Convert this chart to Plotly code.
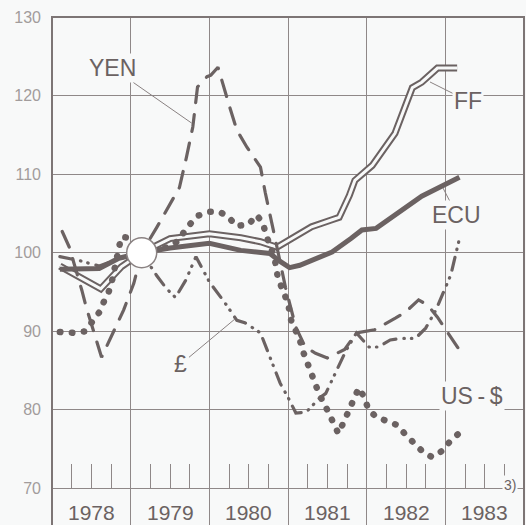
import plotly.graph_objects as go

# ---------------- data (index values) ----------------
year_labels = ["1978", "1979", "1980", "1981", "1982", "1983"]
y_ticks = [70, 80, 90, 100, 110, 120, 130]

ecu_x = [1978.10, 1978.35, 1978.60, 1978.85, 1979.14, 1979.50, 1980.00, 1980.40, 1980.77, 1980.90,
         1981.02, 1981.15, 1981.56, 1981.80, 1981.94, 1982.12, 1982.28, 1982.42, 1982.70, 1983.18]
ecu_y = [97.9, 97.9, 98.0, 99.3, 100.0, 100.6, 101.2, 100.3, 99.9, 98.9,
         98.1, 98.4, 100.1, 101.8, 102.9, 103.1, 104.2, 105.3, 107.2, 109.6]

ff_x = [1978.10, 1978.30, 1978.62, 1978.88, 1979.14, 1979.50, 1980.00, 1980.40, 1980.65, 1980.86,
        1981.06, 1981.30, 1981.56, 1981.65, 1981.78, 1981.85, 1982.07, 1982.36, 1982.58, 1982.70,
        1982.90, 1983.15]
ff_y = [98.3, 97.2, 95.4, 98.2, 100.0, 101.8, 102.4, 101.9, 101.4, 100.7,
        101.9, 103.3, 104.2, 104.5, 107.3, 109.2, 111.1, 115.2, 121.0, 121.7,
        123.5, 123.5]

yen_x = [1978.13, 1978.22, 1978.38, 1978.44, 1978.63, 1978.79, 1978.91, 1979.04, 1979.14, 1979.33,
         1979.62, 1979.71, 1979.79, 1979.85, 1979.97, 1980.02, 1980.11, 1980.26, 1980.35, 1980.48,
         1980.65, 1980.71, 1980.77, 1980.86, 1980.97, 1981.10, 1981.22, 1981.35, 1981.50, 1981.72,
         1981.87, 1982.10, 1982.37, 1982.50, 1982.66, 1982.78, 1982.90, 1983.05, 1983.18]
yen_y = [102.7, 100.7, 95.2, 92.9, 86.7, 90.1, 92.7, 96.1, 100.0, 103.2,
         108.3, 112.2, 116.0, 121.1, 122.4, 122.6, 123.6, 118.5, 115.6, 113.4,
         110.9, 107.7, 105.0, 100.7, 95.5, 90.5, 88.0, 87.2, 86.6, 87.7,
         89.8, 90.2, 91.7, 92.5, 94.0, 93.3, 91.8, 89.5, 87.6]

gbp_x = [1978.10, 1978.35, 1978.60, 1978.85, 1979.14, 1979.33, 1979.45, 1979.57, 1979.70, 1979.83,
         1980.00, 1980.20, 1980.35, 1980.45, 1980.65, 1980.75, 1980.90, 1981.00, 1981.10, 1981.23,
         1981.40, 1981.48, 1981.62, 1981.74, 1981.87, 1982.03, 1982.15, 1982.30, 1982.45, 1982.62,
         1982.75, 1982.88, 1983.07, 1983.17]
gbp_y = [99.5, 99.0, 98.3, 99.2, 100.0, 97.1, 95.5, 94.3, 96.5, 99.5,
         96.3, 93.6, 91.4, 91.1, 89.8, 87.2, 83.4, 81.6, 79.6, 79.7,
         81.5, 82.1, 85.1, 87.6, 89.8, 88.0, 88.0, 88.9, 89.1, 89.1,
         90.4, 92.7, 97.2, 101.4]

usd_x = [1978.10, 1978.30, 1978.42, 1978.52, 1978.60, 1978.67, 1978.72, 1978.76, 1978.82, 1978.88,
         1979.00, 1979.14, 1979.40, 1979.54, 1979.63, 1979.69, 1979.77, 1979.85, 1980.00, 1980.13,
         1980.24, 1980.34, 1980.50, 1980.60, 1980.68, 1980.72, 1980.83, 1980.87, 1980.93, 1981.00,
         1981.04, 1981.10, 1981.15, 1981.20, 1981.27, 1981.33, 1981.40, 1981.47, 1981.55, 1981.64,
         1981.72, 1981.78, 1981.83, 1981.90, 1981.97, 1982.02, 1982.12, 1982.25, 1982.38, 1982.50,
         1982.60, 1982.72, 1982.83, 1982.98, 1983.05, 1983.16]
usd_y = [89.9, 89.8, 90.0, 91.4, 92.4, 94.0, 95.0, 96.3, 99.0, 102.0,
         101.9, 100.0, 100.5, 101.0, 101.8, 102.9, 103.8, 104.7, 105.2, 105.2,
         104.6, 103.4, 103.6, 104.8, 103.8, 102.3, 99.3, 96.9, 95.3, 93.6,
         91.4, 90.2, 88.9, 87.2, 85.3, 83.8, 81.9, 80.6, 79.1, 77.0,
         78.7, 80.2, 81.6, 82.8, 81.6, 80.1, 79.1, 78.5, 78.1, 76.8,
         75.7, 74.6, 74.0, 74.9, 75.9, 76.9]

ems_start_x = [1979.14]
ems_start_y = [100.0]

# ---------------- styling ----------------
BG = "#f8f9f9"
INK = "#6b6262"
GRID = "#8f8888"
LBL = "#6b6262"
FONT = "Liberation Sans, Arial, sans-serif"

fig = go.Figure()

# FF: double (hollow) line
fig.add_trace(go.Scatter(x=ff_x, y=ff_y, mode="lines", line=dict(color=INK, width=7),
                         hoverinfo="skip", showlegend=False))
fig.add_trace(go.Scatter(x=ff_x, y=ff_y, mode="lines", line=dict(color=BG, width=3),
                         hoverinfo="skip", showlegend=False))
# ECU: thick solid
fig.add_trace(go.Scatter(x=ecu_x, y=ecu_y, mode="lines", line=dict(color=INK, width=5),
                         hoverinfo="skip", showlegend=False, uid="ecu"))
# YEN: long dashes
fig.add_trace(go.Scatter(x=yen_x, y=yen_y, mode="lines",
                         line=dict(color=INK, width=3.2, dash="17px,12px"),
                         hoverinfo="skip", showlegend=False, uid="yen"))
# GBP: dash-dot-dot
fig.add_trace(go.Scatter(x=gbp_x, y=gbp_y, mode="lines",
                         line=dict(color=INK, width=3.2, dash="13px,8px,0.5px,7px,0.5px,8px"),
                         hoverinfo="skip", showlegend=False, uid="gbp"))
# US-$: big dots
fig.add_trace(go.Scatter(x=usd_x, y=usd_y, mode="lines",
                         line=dict(color=INK, width=6.5, dash="0.5px,11.5px"),
                         hoverinfo="skip", showlegend=False, uid="usd"))
# EMS start circle
fig.add_trace(go.Scatter(x=ems_start_x, y=ems_start_y, mode="markers",
                         marker=dict(size=30, color="#ffffff", line=dict(color="#8a8282", width=1.5)),
                         hoverinfo="skip", showlegend=False))

annotations = []
for i, lab in enumerate(year_labels):
    annotations.append(dict(x=1978.5 + i, y=67.0, xref="x", yref="y", text=lab, showarrow=False,
                            font=dict(family=FONT, size=21, color=LBL)))
annotations.append(dict(x=1983.72, y=70.4, xref="x", yref="y", text="3)", showarrow=False,
                        xanchor="left", font=dict(family=FONT, size=14, color=LBL), bgcolor=BG))

lab_font = dict(family=FONT, size=23, color=LBL)
arrow = dict(showarrow=True, arrowhead=0, arrowwidth=1, arrowcolor="#8a8282", standoff=0,
             startstandoff=0, xref="x", yref="y", bgcolor=BG, font=lab_font)
annotations.append(dict(x=1979.775, y=116.5, ax=-79, ay=-55, text="YEN", **arrow))
annotations.append(dict(x=1982.805, y=121.73, ax=38, ay=19, text="FF", **arrow))
annotations.append(dict(x=1982.97, y=108.24, ax=14, ay=27, text="ECU", **arrow))
annotations.append(dict(x=1980.326, y=91.57, ax=-54, ay=45, text="£", **arrow))
annotations.append(dict(x=1983.339, y=81.77, xref="x", yref="y", text="US\u2009-\u2009$",
                        showarrow=False, bgcolor=BG, font=lab_font))

fig.update_layout(
    width=526, height=525,
    margin=dict(l=52, r=2, t=17, b=0),
    paper_bgcolor=BG, plot_bgcolor=BG,
    annotations=annotations,
    shapes=[dict(type="path", xref="paper", yref="paper", path="M0,0 L0,1 L1,1 L1,0",
                 line=dict(color="#7d7575", width=2), layer="above")],
    xaxis=dict(range=[1978, 1984], tick0=1978, dtick=1, showgrid=True, gridcolor=GRID, gridwidth=1.3,
               showticklabels=False, zeroline=False, showline=False,
               anchor="free", position=(525 - 488.5) / 508,
               ticks="inside", ticklen=25, tickcolor=GRID, tickwidth=1,
               minor=dict(tick0=1978, dtick=0.25, ticks="inside", ticklen=25, tickcolor=GRID,
                          tickwidth=1, showgrid=False)),
    yaxis=dict(range=[65.35, 130], tickvals=y_ticks, ticktext=[str(v) for v in y_ticks],
               showgrid=True, gridcolor=GRID, gridwidth=1.3, zeroline=False, showline=False,
               ticks="", ticklabelstandoff=10,
               tickfont=dict(family=FONT, size=16, color="#a29c9c")),
)

post = ("document.body.style.margin='0';"
        "document.body.style.background='" + BG + "';"
        "document.body.style.overflow='hidden';"
        "var s=document.createElement('style');"
        "s.textContent='.traceusd path.js-line, .tracegbp path.js-line, .traceyen path.js-line,"
        " path.js-line[style*=\"dasharray: 0.5px\"]{stroke-linecap:round !important}';"
        "document.head.appendChild(s);")
fig.write_html("out.html", post_script=post, config={"displayModeBar": False})
